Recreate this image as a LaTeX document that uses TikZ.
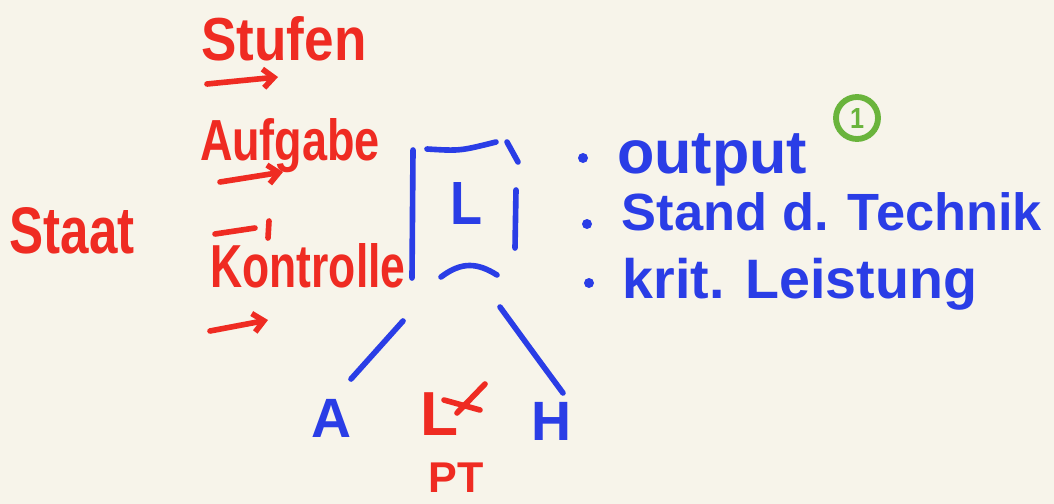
\documentclass[tikz,border=0pt]{standalone}
\usepackage{fontspec}
\setmainfont{Liberation Sans}
\usepackage{graphicx}
\usetikzlibrary{arrows.meta}
\definecolor{bgcol}{HTML}{F7F4EA}
\definecolor{penred}{HTML}{EF2B22}
\definecolor{penblue}{HTML}{2A3DE6}
\definecolor{pengreen}{HTML}{6AB43C}
\newlength\pxu
\setlength\pxu{0.03cm}
\newcommand\hw[2]{\resizebox{#1\pxu}{!}{\bfseries #2}}
\newcommand\hwh[3]{\resizebox{#1\pxu}{#2\pxu}{\bfseries #3}}
\tikzset{
  redtxt/.style={text=penred, inner sep=0pt},
  bluetxt/.style={text=penblue, inner sep=0pt},
  redpen/.style={draw=penred, line width=4.8pt, line cap=round, line join=round},
  bluepen/.style={draw=penblue, line width=4.8pt, line cap=round, line join=round},
  redarrow/.style={redpen, -{Straight Barb[length=9pt,width=16pt,line width=4.8pt]}},
}
\begin{document}
\begin{tikzpicture}[x=0.03cm,y=-0.03cm]
\fill[bgcol] (0,0) rectangle (1054,504);
\useasboundingbox (0,0) rectangle (1054,504);

% left red column
\node[redtxt, anchor=base] (staat) at (72,253) {\hwh{125}{46}{Staat}};
\node[redtxt, anchor=base] (stufen) at (284,60) {\hwh{165}{44}{Stufen}};
\coordinate (a1s) at (207,84);
\coordinate (a1e) at (278,77);
\draw[redarrow] (a1s) -- (a1e);
\node[redtxt, anchor=base] (aufgabe) at (290,160) {\hwh{180}{42}{Aufgabe}};
\coordinate (a2s) at (220,182);
\coordinate (a2e) at (283,172);
\draw[redarrow] (a2s) -- (a2e);
\coordinate (a3s) at (215,234);
\coordinate (a3e) at (255,228);
\coordinate (t3a) at (269,221);
\coordinate (t3b) at (268,238);
\draw[redpen] (a3s) -- (a3e);
\draw[redpen] (t3a) -- (t3b);
\node[redtxt, anchor=base] (kontrolle) at (308,287) {\hwh{195}{44}{Kontrolle}};
\coordinate (a4s) at (210,331);
\coordinate (a4e) at (268,320);
\draw[redarrow] (a4s) -- (a4e);

% box L
\coordinate (bl1) at (413,150);
\coordinate (bl2) at (412,278);
\coordinate (bt1) at (427,149);
\coordinate (bt2) at (496,142);
\coordinate (bd1) at (507,142);
\coordinate (bd2) at (518,162);
\coordinate (br1) at (516,190);
\coordinate (br2) at (515,248);
\coordinate (bb1) at (441,277);
\coordinate (bb2) at (497,275);
\draw[bluepen] (bl1) -- (bl2);
\draw[bluepen] (bt1) .. controls (460,151) .. (bt2);
\draw[bluepen] (bd1) -- (bd2);
\draw[bluepen] (br1) -- (br2);
\draw[bluepen] (bb1) .. controls (462,261) and (478,263) .. (bb2);
\node[bluetxt] (L) at (466,203) {\hwh{32}{42}{L}};

% bullets
\fill[penblue] (583,158) circle (5);
\fill[penblue] (587,224) circle (5);
\fill[penblue] (589,283) circle (5);
\node[bluetxt] (output) at (712,160) {\hw{190}{output}};
\node[bluetxt] (technik) at (832,212) {\hw{420}{Stand d. Technik}};
\node[bluetxt] (leistung) at (800,284) {\hw{354}{krit. Leistung}};

% green marker
\node[draw=pengreen, line width=5pt, circle, minimum size=42\pxu, inner sep=0pt, text=pengreen] (one) at (857,118) {\hwh{14}{20}{1}};

% tree below
\coordinate (la) at (403,321);
\coordinate (lb) at (351,379);
\coordinate (ha) at (500,307);
\coordinate (hb) at (563,393);
\draw[bluepen] (la) -- (lb);
\draw[bluepen] (ha) .. controls (535,355) .. (hb);
\node[bluetxt] (A) at (332,418) {\hw{40}{A}};
\node[bluetxt] (H) at (552,421) {\hw{40}{H}};
\node[redtxt] (Lx) at (440,414) {\hw{38}{L}};
\coordinate (x1a) at (444,400);
\coordinate (x1b) at (480,410);
\coordinate (x2a) at (485,384);
\coordinate (x2b) at (457,413);
\draw[redpen] (x1a) -- (x1b);
\draw[redpen] (x2a) -- (x2b);
\node[redtxt] (PT) at (456,478) {\hw{55}{PT}};
\end{tikzpicture}
\end{document}
